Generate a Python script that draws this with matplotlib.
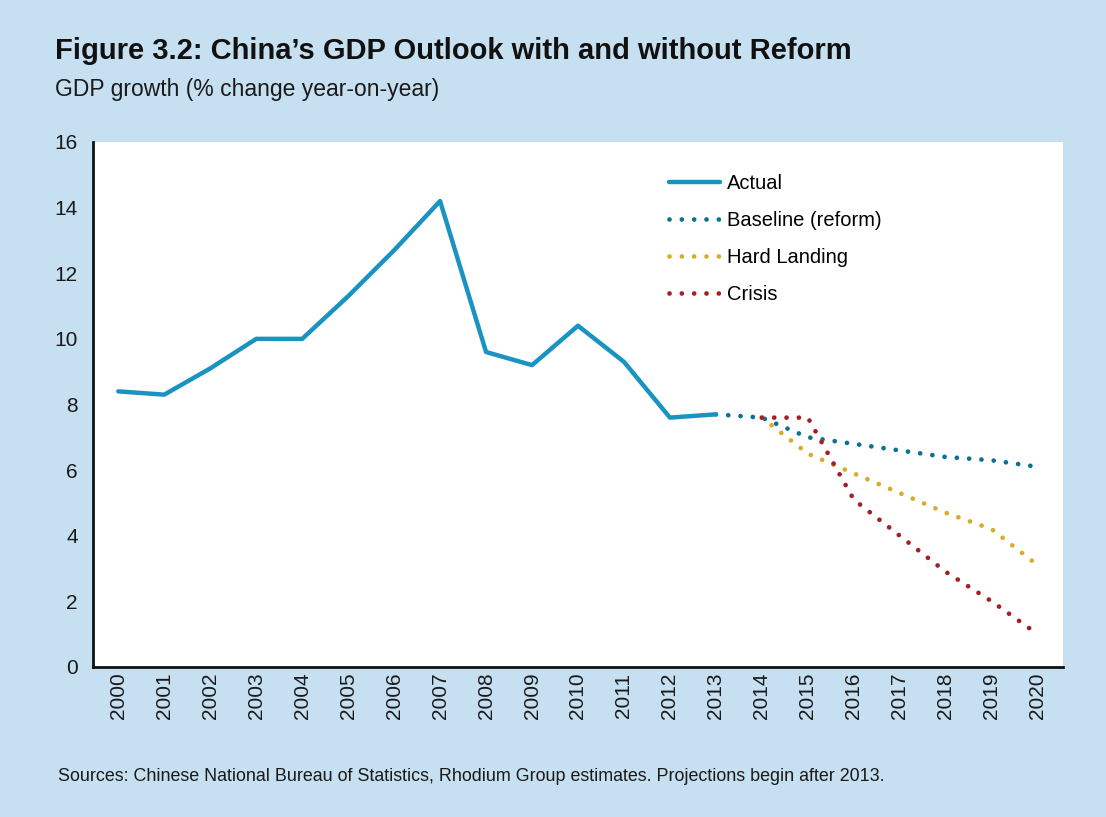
"""China GDP outlook with and without reform (Figure 3.2)."""

import matplotlib

matplotlib.use("Agg")

import matplotlib.pyplot as plt

years = [str(y) for y in range(2000, 2021)]

actual_years = years[:14]
actual = [8.4, 8.3, 9.1, 10.0, 10.0, 11.3, 12.7, 14.2, 9.6, 9.2, 10.4, 9.3, 7.6, 7.7]

proj_years = years[13:]
baseline = [7.7, 7.6, 7.0, 6.8, 6.6, 6.4, 6.3, 6.1]

hard_years = years[14:]
hard_landing = [7.6, 6.5, 5.9, 5.3, 4.7, 4.2, 3.1]
crisis = [7.6, 7.6, 5.1, 4.0, 2.9, 2.0, 1.0]

BG = "#c6dff1"
FONT = ["Liberation Sans", "DejaVu Sans"]
plt.rcParams["font.family"] = FONT

fig = plt.figure(figsize=(11.06, 8.17), dpi=100, facecolor=BG)
axis = fig.add_axes([0.0841, 0.1836, 0.877, 0.6426])
axis.set_facecolor("white")

x_all = list(range(len(years)))
pos = {y: i for i, y in enumerate(years)}

dot = (0, (0.01, 2.6))
axis.plot([pos[y] for y in actual_years], actual, color="#1a93c2", linewidth=3.2,
          solid_capstyle="round", label="Actual", zorder=3)
axis.plot([pos[y] for y in proj_years], baseline, color="#0a7095", linewidth=3.4,
          linestyle=dot, dash_capstyle="round", label="Baseline (reform)", zorder=2)
axis.plot([pos[y] for y in hard_years], hard_landing, color="#d8ad2c", linewidth=3.4,
          linestyle=dot, dash_capstyle="round", label="Hard Landing", zorder=2)
axis.plot([pos[y] for y in hard_years], crisis, color="#a51e23", linewidth=3.4,
          linestyle=dot, dash_capstyle="round", label="Crisis", zorder=2)

axis.set_xlim(-0.55, len(years) - 0.45)
axis.set_ylim(0, 16)
axis.set_yticks(range(0, 17, 2))
axis.set_xticks(x_all)
axis.set_xticklabels(years, rotation=90)
axis.tick_params(axis="both", length=0, labelsize=15, colors="#1a1a1a")
axis.tick_params(axis="y", pad=11)
axis.tick_params(axis="x", pad=4)
for side in ("top", "right"):
    axis.spines[side].set_visible(False)
for side in ("left", "bottom"):
    axis.spines[side].set_linewidth(2)
    axis.spines[side].set_color("#111111")

axis.legend(loc="upper left", bbox_to_anchor=(0.575, 0.974), frameon=False,
            fontsize=14.5, handlelength=2.55, handletextpad=0.35, labelspacing=0.9)

fig.text(0.050, 0.928, "Figure 3.2: China\u2019s GDP Outlook with and without Reform",
         fontsize=21, fontweight="bold", color="#111111")
fig.text(0.050, 0.883, "GDP growth (% change year-on-year)", fontsize=16.5, color="#1a1a1a")
fig.text(0.052, 0.044, "Sources: Chinese National Bureau of Statistics, Rhodium Group "
         "estimates. Projections begin after 2013.", fontsize=12.9, color="#1a1a1a")

fig.savefig("out.png", dpi=100, facecolor=BG)
